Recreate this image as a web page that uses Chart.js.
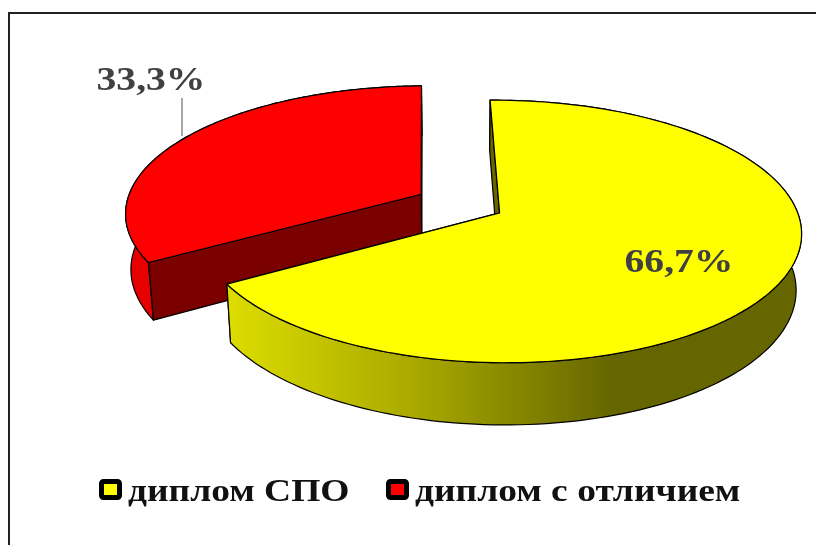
<!DOCTYPE html>
<html>
<head>
<meta charset="utf-8">
<style>
  html, body { margin: 0; padding: 0; background: #fff; overflow: hidden; }
  canvas { display: block; }
</style>
<script src="https://cdn.jsdelivr.net/npm/chart.js@4"></script>
</head>
<body>
<canvas id="myChart" width="816" height="545"></canvas>
<script>
const categories = ["диплом СПО", "диплом с отличием"];
const shares = [66.7, 33.3];
const colors = ["#FFFF00", "#FF0000"];

// look of the tilted pie
const tilt = { cx: 460, cy: 203.5, rx: 295, ry: 126, k: 0.14, depth: 55, shrink: 0.984 };
const walls = [
  [[0.23, "#E8E800"], [0.52, "#A6A600"], [0.75, "#666600"], [1, "#666600"]],
  [[0, "#E60000"], [1, "#E60000"]],
];
const cutColors = ["#666600", "#7A0000"];
const labelPos = [[679, 263], [151, 81]];
const legendPos = [[99, 128], [386, 415]];

function project(u, v, low) {
  const s = 1 / (1 - tilt.k * v);
  let x = tilt.cx + tilt.rx * u * s;
  let y = tilt.cy + tilt.ry * v * s;
  if (low) {
    x = tilt.cx + (x - tilt.cx) * tilt.shrink;
    y = tilt.cy + (y - tilt.cy) * tilt.shrink + tilt.depth * s;
  }
  return [x, y];
}

function stretchedText(ctx, text, x, y, align, sx) {
  ctx.save();
  ctx.translate(x, y);
  ctx.scale(sx, 1);
  ctx.textAlign = align;
  ctx.textBaseline = "middle";
  ctx.fillText(text, 0, 0);
  ctx.restore();
}

function polygon(ctx, pts, fill) {
  ctx.beginPath();
  pts.forEach((p, i) => (i ? ctx.lineTo(p[0], p[1]) : ctx.moveTo(p[0], p[1])));
  ctx.closePath();
  ctx.fillStyle = fill;
  ctx.fill();
  ctx.strokeStyle = "#000";
  ctx.lineWidth = 1.2;
  ctx.stroke();
}

function drawSlice(ctx, el, i) {
  const a0 = el.startAngle, a1 = el.endAngle;
  const mid = (a0 + a1) / 2;
  const off = el.options.offset / el.outerRadius;
  const ox = Math.cos(mid) * off, oy = Math.sin(mid) * off;
  const top = [], low = [];
  const steps = 160;
  for (let n = 0; n <= steps; n++) {
    const a = a0 + (a1 - a0) * n / steps;
    top.push(project(ox + Math.cos(a), oy + Math.sin(a), false));
    low.push(project(ox + Math.cos(a), oy + Math.sin(a), true));
  }
  const tipTop = project(ox, oy, false), tipLow = project(ox, oy, true);

  // end cut faces away from the viewer, so it goes under the wall
  polygon(ctx, [tipTop, top[steps], low[steps], tipLow], cutColors[i]);

  // outer wall
  const grad = ctx.createLinearGradient(0, 0, 816, 0);
  walls[i].forEach(w => grad.addColorStop(w[0], w[1]));
  polygon(ctx, top.concat(low.slice().reverse()), grad);

  // start cut
  polygon(ctx, [tipTop, top[0], low[0], tipLow], cutColors[i]);

  // top face
  polygon(ctx, [tipTop].concat(top), el.options.backgroundColor);
}

const tiltedPie = {
  id: "tiltedPie",
  beforeDatasetDraw(chart, args) {
    const ctx = chart.ctx;
    const arcs = chart.getDatasetMeta(args.index).data;
    ctx.save();
    ctx.lineJoin = "round";
    [1, 0].forEach(i => drawSlice(ctx, arcs[i], i));
    ctx.restore();
    return false;
  },
  afterDraw(chart) {
    const ctx = chart.ctx;
    ctx.save();
    // frame
    ctx.strokeStyle = "#222";
    ctx.lineWidth = 2;
    ctx.beginPath();
    ctx.moveTo(9, 546);
    ctx.lineTo(9, 13);
    ctx.lineTo(817, 13);
    ctx.stroke();

    // leader line
    ctx.strokeStyle = "#A6A6A6";
    ctx.lineWidth = 2;
    ctx.beginPath();
    ctx.moveTo(182, 98);
    ctx.lineTo(182, 136);
    ctx.stroke();

    // value labels
    ctx.fillStyle = "#404040";
    ctx.font = "bold 33px 'Liberation Serif'";
    shares.forEach((v, i) => {
      stretchedText(ctx, String(v).replace(".", ",") + "%", labelPos[i][0], labelPos[i][1], "center", 1.2);
    });

    // legend
    ctx.font = "bold 31.5px 'Liberation Serif'";
    categories.forEach((name, i) => {
      ctx.fillStyle = colors[i];
      ctx.strokeStyle = "#000";
      ctx.lineWidth = 5;
      ctx.beginPath();
      ctx.roundRect(legendPos[i][0] + 2.5, 481.5, 18, 16, 2);
      ctx.fill();
      ctx.stroke();
      ctx.fillStyle = "#111";
      stretchedText(ctx, name, legendPos[i][1], 493, "left", 1.19);
    });
    ctx.restore();
  },
};

new Chart(document.getElementById("myChart"), {
  type: "pie",
  data: {
    labels: categories,
    datasets: [
      {
        data: shares,
        backgroundColor: colors,
        borderWidth: 0,
        offset: 38.5,
      },
    ],
  },
  options: {
    responsive: false,
    animation: false,
    rotation: -1,
    plugins: {
      legend: { display: false },
      tooltip: { enabled: false },
    },
  },
  plugins: [tiltedPie],
});
</script>
</body>
</html>
